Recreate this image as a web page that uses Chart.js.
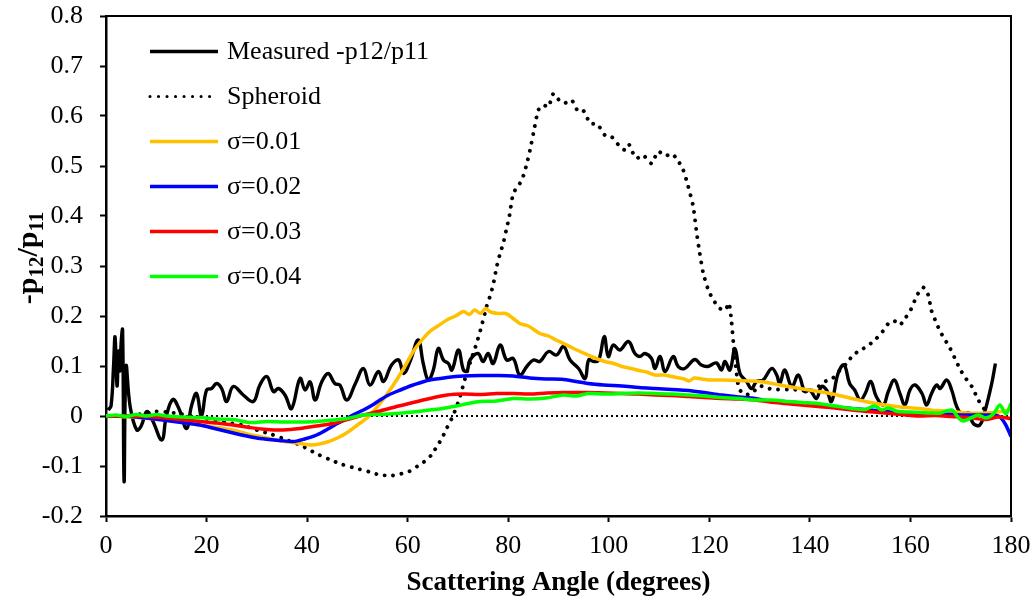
<!DOCTYPE html>
<html>
<head>
<meta charset="utf-8">
<script src="https://cdn.jsdelivr.net/npm/chart.js@4/dist/chart.umd.min.js"></script>
<style>
  html, body { margin: 0; padding: 0; background: #ffffff; }
  #wrap { width: 1036px; height: 600px; }
</style>
</head>
<body>
<div id="wrap"><canvas id="chart" width="1036" height="600"></canvas></div>
<script>
// Measured -p12/p11 versus scattering angle (degrees)
const measuredAngle = [0.4,1.0,1.5,1.8,2.2,2.5,2.8,3.0,3.3,3.6,4.0,4.8,6.1,7.0,8.1,9.3,11.1,12.0,13.3,14.5,16.0,17.0,18.0,19.0,20.0,21.0,22.0,23.0,24.0,25.3,27.3,29.3,30.6,32.0,33.3,34.3,35.6,36.9,38.6,39.6,40.6,41.6,42.9,44.2,45.5,46.5,47.9,49.6,51.2,52.5,54.2,55.2,56.8,58.2,59.2,60.5,62.1,63.1,64.1,65.1,66.1,67.1,68.1,68.8,70.1,71.1,71.8,72.4,74.0,75.0,76.0,77.0,78.4,79.7,81.0,82.3,83.7,85.0,86.3,88.0,89.6,91.0,92.3,94.0,95.3,96.0,97.0,98.0,99.1,99.9,100.9,102.2,103.9,105.2,106.2,107.2,108.5,109.2,110.2,111.2,112.8,113.8,115.1,117.1,118.4,119.7,121.4,122.4,123.1,124.1,125.1,126.1,127.4,128.4,129.4,130.7,132.4,133.4,134.0,135.0,136.4,137.7,139.0,140.0,141.3,142.3,143.3,144.3,145.6,146.8,147.9,148.9,150.0,151.0,152.1,153.2,154.6,155.6,156.8,157.9,158.9,159.9,160.9,162.3,163.2,164.2,165.2,165.9,167.2,168.2,169.2,170.5,171.5,172.5,173.8,174.8,176.1,176.9];
const measuredValue = [0.012,0.02,0.10,0.158,0.06,0.13,0.09,0.145,0.172,-0.131,0.099,0.019,-0.028,-0.02,0.009,-0.01,-0.048,0.0,0.033,0.015,-0.025,0.02,0.045,0.0,0.052,0.055,0.065,0.055,0.029,0.059,0.042,0.029,0.062,0.079,0.049,0.055,0.042,0.015,0.075,0.052,0.068,0.032,0.068,0.085,0.065,0.062,0.032,0.065,0.095,0.062,0.089,0.069,0.102,0.112,0.085,0.11,0.152,0.105,0.072,0.092,0.135,0.112,0.105,0.092,0.132,0.092,0.09,0.112,0.125,0.109,0.125,0.105,0.142,0.112,0.115,0.082,0.099,0.112,0.109,0.129,0.122,0.139,0.112,0.095,0.075,0.112,0.109,0.112,0.159,0.119,0.142,0.132,0.149,0.125,0.119,0.125,0.115,0.095,0.119,0.089,0.119,0.099,0.095,0.113,0.102,0.099,0.106,0.092,0.109,0.092,0.135,0.085,0.069,0.055,0.069,0.072,0.095,0.082,0.065,0.092,0.059,0.082,0.049,0.052,0.035,0.059,0.052,0.029,0.085,0.102,0.065,0.052,0.032,0.045,0.069,0.039,0.022,0.049,0.072,0.045,0.022,0.052,0.062,0.045,0.022,0.045,0.062,0.055,0.072,0.052,0.019,0.0,0.007,-0.015,-0.018,0.009,0.062,0.105];

// Spheroid model
const spheroidAngle = [0,5,10,12,15,18,21,24,27,30,33,36,38.6,41.6,44.5,47,50.2,52.5,54.5,57,58.5,60.3,62,63.5,64.8,65.8,66.8,67.8,69,70.3,71.7,72.7,73.7,74.7,75.7,76.4,77,77.7,78.3,79,79.6,80.2,81,82.3,83,83.7,84.4,85,86,87,88,89,90.1,91.3,92.6,93.9,95,96.3,97.7,99.2,100.6,102.2,103.2,104,104.7,105.5,106.8,108.5,109.8,111.3,112.4,113.5,114.8,115.8,116.8,117.5,118.1,118.8,119.8,120.8,122.1,123.2,123.9,124.4,124.8,125.3,125.9,127,128.4,130,131.7,133.5,135.7,138,140,141.7,143,144.5,146,147.3,148.6,150.3,151.5,152.9,154.2,155.6,156.8,157.9,158.9,159.9,160.9,161.8,162.6,163.5,164.2,165,165.9,166.9,167.9,168.9,169.8,170.8,172.2,173.5,174.8,175.6];
const spheroidValue = [0,0.001,0.009,0.008,0.004,-0.002,-0.007,-0.013,-0.018,-0.028,-0.037,-0.048,-0.058,-0.074,-0.087,-0.097,-0.106,-0.112,-0.118,-0.119,-0.116,-0.111,-0.1,-0.09,-0.077,-0.061,-0.045,-0.024,0.0,0.035,0.085,0.115,0.145,0.18,0.219,0.24,0.262,0.298,0.322,0.345,0.372,0.398,0.445,0.465,0.48,0.505,0.535,0.565,0.612,0.622,0.618,0.645,0.632,0.626,0.632,0.609,0.61,0.585,0.584,0.562,0.558,0.539,0.532,0.543,0.528,0.515,0.522,0.505,0.529,0.52,0.525,0.515,0.492,0.459,0.419,0.365,0.325,0.285,0.252,0.232,0.215,0.212,0.226,0.19,0.145,0.095,0.055,0.043,0.045,0.06,0.055,0.053,0.053,0.052,0.049,0.059,0.069,0.075,0.092,0.105,0.122,0.133,0.14,0.152,0.165,0.185,0.19,0.182,0.195,0.209,0.232,0.25,0.257,0.243,0.21,0.19,0.169,0.152,0.135,0.114,0.095,0.078,0.059,0.032,0.012,0.0];

// sigma = 0.01
const sigma01Angle = [0,5,10,15,20,25,30,35,38,41,44,46,48,50,52,54.5,56,57.8,59.5,61.1,62.5,64.4,66,67.8,69.5,71.1,72.3,73.3,74.5,75.5,76.5,78,79.5,81,82.3,84,86.3,88,89.5,91,93,95.9,97.5,99.2,101,102.6,104.5,106,107.5,109.2,111,112.5,114,115,116,117,118.5,120,122.4,125,128,130,132,134,135.7,138,141.7,145,148.3,151.5,154.9,158,161.6,165,168.2,171.5,175,178.1,180];
const sigma01Value = [0,-0.002,-0.006,-0.012,-0.02,-0.028,-0.04,-0.05,-0.054,-0.058,-0.052,-0.044,-0.033,-0.018,-0.003,0.025,0.045,0.072,0.1,0.129,0.148,0.169,0.18,0.192,0.2,0.209,0.203,0.212,0.205,0.215,0.208,0.205,0.205,0.195,0.185,0.18,0.165,0.16,0.152,0.145,0.135,0.122,0.115,0.109,0.105,0.099,0.095,0.091,0.088,0.082,0.082,0.079,0.076,0.074,0.07,0.076,0.074,0.072,0.072,0.071,0.07,0.069,0.066,0.062,0.059,0.055,0.049,0.043,0.035,0.028,0.022,0.018,0.015,0.011,0.009,0.006,0.006,0.009,0.013];

// sigma = 0.02
const sigma02Angle = [0,5,8.8,12,15,18.7,22,25.3,28,30.6,34.6,37.3,39.5,41.9,44.5,46,47.9,49.5,51.2,53,54.5,56,57.8,59.5,61.1,64.4,67.8,71.1,74.5,77.7,81,84.3,87.5,91,95.9,99,102.6,106,109.2,112.5,115.8,119,122.4,126,129.1,132,135,138,141.7,145,148.3,152,155,158,161.6,165,168.2,171.5,175,177.5,178.8,180];
const sigma02Value = [0,-0.001,-0.005,-0.009,-0.013,-0.018,-0.026,-0.034,-0.04,-0.045,-0.049,-0.051,-0.046,-0.038,-0.024,-0.015,-0.005,0.004,0.012,0.022,0.032,0.041,0.049,0.056,0.062,0.072,0.077,0.08,0.081,0.081,0.08,0.076,0.074,0.073,0.065,0.062,0.06,0.057,0.055,0.053,0.051,0.047,0.042,0.038,0.035,0.03,0.029,0.026,0.022,0.018,0.015,0.012,0.009,0.007,0.005,0.004,0.003,0.002,0.002,0.0,-0.015,-0.041];

// sigma = 0.03
const sigma03Angle = [0,5,8,11,14,18.7,22,25.3,28.6,32,35.3,38.6,41.9,45.2,48,51.2,54.5,57.8,61.1,64.4,67.8,71.1,74.4,77.7,81,84.3,87.7,91,95.9,99.2,102.6,105.9,109.2,112.5,115.8,119,122.4,125.8,129.1,132,135,138.3,141.6,145,148.3,151.5,154.9,158.2,161.6,165,168.2,171.5,174.9,177.5,180];
const sigma03Value = [0,0,-0.001,-0.003,-0.006,-0.011,-0.014,-0.018,-0.023,-0.027,-0.028,-0.025,-0.02,-0.015,-0.007,0.002,0.01,0.019,0.027,0.035,0.042,0.044,0.043,0.045,0.045,0.044,0.046,0.047,0.047,0.046,0.045,0.044,0.042,0.041,0.039,0.037,0.035,0.034,0.032,0.028,0.025,0.022,0.019,0.016,0.012,0.009,0.006,0.003,0.0,0.001,-0.001,-0.003,-0.007,-0.002,-0.005];

// sigma = 0.04
const sigma04Angle = [0,2,4,6,8,10,12,15,18.7,22,25.3,28.6,32,35.3,38.6,41.9,45.2,48,51.2,54.5,57.8,61.1,64.4,67,69.7,72,74.4,77.7,81,84.3,87.5,91,93.5,95.9,99.2,102.6,105.9,109.2,112.5,115.8,119,122.4,125.8,129.1,132.4,135.7,138.5,141.6,145,148.3,151,152.8,154.3,155.6,157.5,159.9,162,164,166,168.2,169.5,170.5,172,173.5,175,176.5,177.8,179,180];
const sigma04Value = [0,0.002,-0.001,0.003,0,0.003,0,-0.002,-0.003,-0.006,-0.007,-0.013,-0.011,-0.012,-0.012,-0.011,-0.008,-0.005,0.002,0.003,0.005,0.008,0.012,0.015,0.02,0.025,0.029,0.03,0.035,0.034,0.036,0.042,0.04,0.045,0.044,0.045,0.046,0.045,0.044,0.042,0.04,0.037,0.035,0.032,0.032,0.029,0.027,0.025,0.02,0.015,0.013,0.02,0.012,0.016,0.009,0.008,0.007,0.006,0.006,0.012,-0.003,-0.01,-0.004,0.002,-0.004,0.004,0.022,0.004,0.025];

// Reference zero line
const zeroAngle = [0, 180];
const zeroValue = [0, 0];

// Axis ticks
const xTickValues = [0, 20, 40, 60, 80, 100, 120, 140, 160, 180];
const xTickLabels = ['0', '20', '40', '60', '80', '100', '120', '140', '160', '180'];
const yTickValues = [-0.2, -0.1, 0, 0.1, 0.2, 0.3, 0.4, 0.5, 0.6, 0.7, 0.8];
const yTickLabels = ['-0.2', '-0.1', '0', '0.1', '0.2', '0.3', '0.4', '0.5', '0.6', '0.7', '0.8'];

const serif = "'Liberation Serif', 'Times New Roman', serif";

function pts(xs, ys) {
  return xs.map((x, i) => ({ x: x, y: ys[i] }));
}

// Legend drawn inside the plot area, top-left
const insideLegend = {
  id: 'insideLegend',
  afterDraw(chart) {
    const ctx = chart.ctx;
    const area = chart.chartArea;
    const x0 = area.left + 44, x1 = area.left + 112, tx = area.left + 121;
    let y = area.top + 35.5;
    ctx.save();
    chart.data.datasets.forEach(ds => {
      if (ds.inLegend === false) return;
      ctx.beginPath();
      ctx.strokeStyle = ds.borderColor;
      ctx.lineWidth = ds.legendWidth || ds.borderWidth;
      ctx.lineCap = ds.legendDash ? 'round' : 'butt';
      ctx.setLineDash(ds.legendDash || []);
      ctx.moveTo(x0, y);
      ctx.lineTo(x1, y);
      ctx.stroke();
      ctx.setLineDash([]);
      ctx.fillStyle = '#000';
      ctx.font = '26px ' + serif;
      ctx.textBaseline = 'middle';
      ctx.textAlign = 'left';
      ctx.fillText(ds.label, tx, y + 1);
      y += 45;
    });
    ctx.restore();
  }
};

// Top and right edges of the plot frame, plus the y-axis title with subscripts
const frameAndTitle = {
  id: 'frameAndTitle',
  afterDraw(chart) {
    const ctx = chart.ctx;
    const a = chart.chartArea;
    ctx.save();
    ctx.strokeStyle = '#000';
    ctx.lineWidth = 2;
    ctx.beginPath();
    ctx.moveTo(a.left, a.top);
    ctx.lineTo(a.right, a.top);
    ctx.lineTo(a.right, a.bottom);
    ctx.stroke();

    const parts = [
      { t: '-p', sub: false },
      { t: '12', sub: true },
      { t: '/p', sub: false },
      { t: '11', sub: true }
    ];
    const mainFont = 'bold 30px ' + serif;
    const subFont = 'bold 21px ' + serif;
    let total = 0;
    parts.forEach(p => {
      ctx.font = p.sub ? subFont : mainFont;
      p.w = ctx.measureText(p.t).width;
      total += p.w;
    });
    ctx.translate(37, (a.top + a.bottom) / 2 - 8);
    ctx.rotate(-Math.PI / 2);
    ctx.fillStyle = '#000';
    ctx.textBaseline = 'alphabetic';
    ctx.textAlign = 'left';
    let x = -total / 2;
    parts.forEach(p => {
      ctx.font = p.sub ? subFont : mainFont;
      ctx.fillText(p.t, x, p.sub ? 6 : 0);
      x += p.w;
    });
    ctx.restore();
  }
};

// Fixed axis box sizes; edge-label overhang is absorbed by the layout padding
function fixYAxis(s) {
  s.width = 106;
  s.paddingTop = 0;
  s.paddingBottom = 0;
}
function fixXAxis(s) {
  s.height = 84;
  s.paddingLeft = 0;
  s.paddingRight = 0;
}

new Chart(document.getElementById('chart'), {
  type: 'line',
  data: {
    datasets: [
      {
        label: 'Measured -p12/p11',
        data: pts(measuredAngle, measuredValue),
        borderColor: '#000000',
        borderWidth: 3.4,
        legendWidth: 3.5,
        tension: 0.4,
        order: 6
      },
      {
        label: 'Spheroid',
        data: pts(spheroidAngle, spheroidValue),
        borderColor: '#000000',
        borderWidth: 3.9,
        borderDash: [0.01, 8.5],
        borderCapStyle: 'round',
        legendWidth: 3.1,
        legendDash: [0.01, 8.5],
        tension: 0.2,
        order: 5
      },
      {
        label: 'σ=0.01',
        data: pts(sigma01Angle, sigma01Value),
        borderColor: '#ffc000',
        borderWidth: 3.5,
        tension: 0.3,
        order: 4
      },
      {
        label: 'σ=0.02',
        data: pts(sigma02Angle, sigma02Value),
        borderColor: '#0000ff',
        borderWidth: 3.5,
        tension: 0.3,
        order: 3
      },
      {
        label: 'σ=0.03',
        data: pts(sigma03Angle, sigma03Value),
        borderColor: '#ff0000',
        borderWidth: 3.5,
        tension: 0.3,
        order: 2
      },
      {
        label: 'σ=0.04',
        data: pts(sigma04Angle, sigma04Value),
        borderColor: '#00ff00',
        borderWidth: 3.5,
        tension: 0.3,
        order: 1
      },
      {
        label: 'zero',
        inLegend: false,
        data: pts(zeroAngle, zeroValue),
        borderColor: '#000000',
        borderWidth: 2,
        borderDash: [2, 3],
        tension: 0,
        order: 7
      }
    ]
  },
  options: {
    responsive: false,
    animation: false,
    devicePixelRatio: 1,
    parsing: false,
    elements: {
      point: { radius: 0, hoverRadius: 0 },
      line: { fill: false }
    },
    layout: { padding: { left: 0, top: 16, right: 25, bottom: 0 } },
    plugins: {
      legend: { display: false },
      tooltip: { enabled: false }
    },
    scales: {
      x: {
        type: 'linear',
        min: 0,
        max: 180,
        afterBuildTicks: s => { s.ticks = xTickValues.map(v => ({ value: v })); },
        afterFit: fixXAxis,
        ticks: {
          callback: v => xTickLabels[xTickValues.indexOf(v)],
          font: { family: serif, size: 26 },
          color: '#000',
          padding: 9,
          maxRotation: 0,
          autoSkip: false
        },
        grid: {
          drawOnChartArea: false,
          drawTicks: true,
          tickLength: 6,
          tickWidth: 2,
          tickColor: '#000'
        },
        border: { display: true, color: '#000', width: 2.5 },
        title: {
          display: true,
          text: 'Scattering Angle (degrees)',
          font: { family: serif, size: 27, weight: 'bold' },
          color: '#000',
          padding: { top: 0, bottom: 1 }
        }
      },
      y: {
        type: 'linear',
        min: -0.2,
        max: 0.8,
        afterBuildTicks: s => { s.ticks = yTickValues.map(v => ({ value: v })); },
        afterFit: fixYAxis,
        ticks: {
          callback: v => {
            const i = yTickValues.findIndex(t => Math.abs(t - v) < 1e-9);
            return i >= 0 ? yTickLabels[i] : '';
          },
          font: { family: serif, size: 26 },
          color: '#000',
          padding: 17,
          autoSkip: false
        },
        grid: {
          drawOnChartArea: false,
          drawTicks: true,
          tickLength: 6,
          tickWidth: 2,
          tickColor: '#000'
        },
        border: { display: true, color: '#000', width: 2.5 }
      }
    }
  },
  plugins: [insideLegend, frameAndTitle]
});
</script>
</body>
</html>
